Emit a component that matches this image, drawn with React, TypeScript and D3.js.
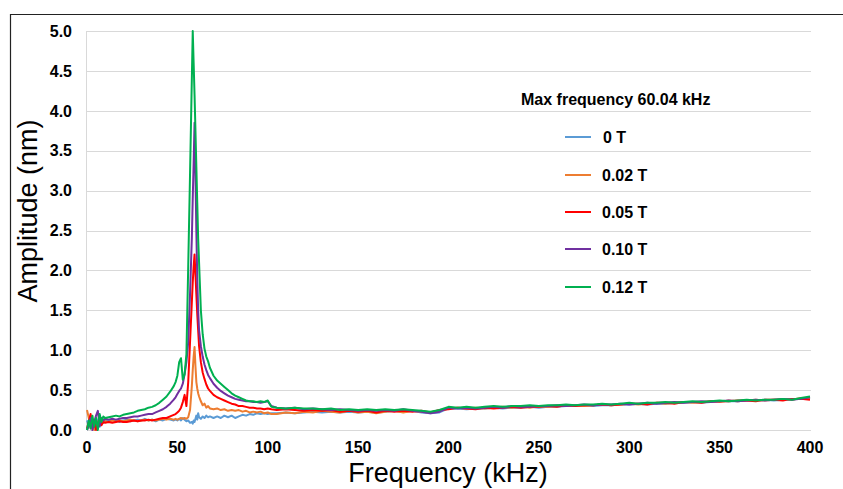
import React from 'react';
import * as d3 from 'd3';

// Frequency grid (kHz)
const freqLow = [0, 1, 2, 3, 4, 5, 6, 7, 8, 9, 10];
const freqRise = [12, 14, 16, 18, 20, 22, 24, 26, 28, 30, 32, 34, 36, 38, 40, 42, 44, 46, 48];
const freqPeakA = [49, 50, 51, 52, 53, 54, 55, 56, 57, 58];
const freqPeakB = [58.5, 59, 59.5, 60, 60.5, 61, 61.5, 62];
const freqTail = [63, 64, 65, 66, 67, 68];
const freqMid = [70, 72, 74, 76, 78, 80, 82, 84, 86, 88, 90, 92, 94, 96, 98, 100, 102];
const freqHigh = [
  105, 110, 115, 120, 125, 130, 135, 140, 145, 150,
  155, 160, 165, 170, 175, 180, 185, 190, 195, 200,
  205, 210, 215, 220, 225, 230, 235, 240, 245, 250,
  255, 260, 265, 270, 275, 280, 285, 290, 295, 300,
  305, 310, 315, 320, 325, 330, 335, 340, 345, 350,
  355, 360, 365, 370, 375, 380, 385, 390, 395, 400,
];
const freqKHz = [...freqLow, ...freqRise, ...freqPeakA, ...freqPeakB, ...freqTail, ...freqMid, ...freqHigh];

// Amplitudes (nm)
const amp0T = [
  0.12, 0.05, 0.18, 0.08, 0.02, 0.15, 0.10, 0.04, 0.13, 0.09, 0.12,
  0.11, 0.13, 0.12, 0.10, 0.12, 0.13, 0.11, 0.12, 0.13, 0.12, 0.14, 0.12, 0.13, 0.11, 0.13, 0.12, 0.14, 0.13, 0.12,
  0.13, 0.12, 0.14, 0.12, 0.15, 0.13, 0.11, 0.12, 0.09, 0.10,
  0.08, 0.12, 0.10, 0.14, 0.18, 0.13, 0.21, 0.16,
  0.14, 0.17, 0.15, 0.18, 0.16, 0.17,
  0.15, 0.17, 0.15, 0.18, 0.16, 0.18, 0.15, 0.17, 0.19, 0.18, 0.20, 0.19, 0.21, 0.20, 0.21, 0.20, 0.21,
  0.21, 0.22, 0.21, 0.22, 0.23, 0.22, 0.23, 0.22, 0.23, 0.22,
  0.23, 0.22, 0.23, 0.24, 0.23, 0.24, 0.22, 0.21, 0.22, 0.27,
  0.27, 0.26, 0.27, 0.27, 0.28, 0.27, 0.28, 0.28, 0.29, 0.28,
  0.29, 0.29, 0.30, 0.30, 0.31, 0.30, 0.31, 0.31, 0.32, 0.32,
  0.33, 0.32, 0.33, 0.33, 0.34, 0.34, 0.35, 0.34, 0.35, 0.36,
  0.36, 0.36, 0.37, 0.37, 0.38, 0.37, 0.38, 0.39, 0.39, 0.40,
];
const amp002T = [
  0.25, 0.15, 0.02, 0.10, 0.00, 0.12, 0.06, 0.14, 0.08, 0.10, 0.11,
  0.10, 0.12, 0.11, 0.12, 0.11, 0.12, 0.13, 0.12, 0.11, 0.12, 0.13, 0.12, 0.13, 0.12, 0.13, 0.14, 0.13, 0.14, 0.13,
  0.14, 0.13, 0.14, 0.15, 0.14, 0.15, 0.14, 0.16, 0.25, 0.55,
  0.75, 0.92, 1.04, 0.80, 0.60, 0.52, 0.46, 0.42,
  0.36, 0.31, 0.33, 0.28, 0.30, 0.27,
  0.26, 0.27, 0.25, 0.26, 0.24, 0.25, 0.24, 0.25, 0.23, 0.24, 0.22, 0.23, 0.22, 0.23, 0.21, 0.22, 0.20,
  0.20, 0.22, 0.21, 0.23, 0.22, 0.24, 0.23, 0.22, 0.24, 0.22,
  0.23, 0.21, 0.23, 0.24, 0.22, 0.24, 0.23, 0.22, 0.24, 0.27,
  0.28, 0.27, 0.28, 0.27, 0.28, 0.29, 0.28, 0.29, 0.28, 0.30,
  0.29, 0.30, 0.30, 0.31, 0.30, 0.31, 0.32, 0.31, 0.32, 0.33,
  0.32, 0.33, 0.34, 0.33, 0.34, 0.35, 0.34, 0.35, 0.36, 0.35,
  0.37, 0.36, 0.37, 0.38, 0.37, 0.38, 0.39, 0.38, 0.40, 0.39,
];
const amp005T = [
  0.02, 0.10, 0.20, 0.05, 0.12, 0.00, 0.08, 0.15, 0.06, 0.10, 0.09,
  0.10, 0.09, 0.10, 0.11, 0.10, 0.10, 0.11, 0.12, 0.11, 0.12, 0.12, 0.13, 0.12, 0.13, 0.14, 0.15, 0.15, 0.17, 0.19,
  0.20, 0.22, 0.24, 0.28, 0.35, 0.44, 0.30, 0.60, 1.10, 1.60,
  1.85, 2.05, 2.20, 1.95, 1.70, 1.45, 1.25, 1.05,
  0.85, 0.72, 0.64, 0.57, 0.52, 0.49,
  0.44, 0.41, 0.39, 0.37, 0.35, 0.33, 0.32, 0.30, 0.30, 0.29, 0.28, 0.28, 0.27, 0.27, 0.26, 0.27, 0.26,
  0.25, 0.26, 0.25, 0.24, 0.25, 0.24, 0.25, 0.23, 0.24, 0.23,
  0.24, 0.22, 0.24, 0.23, 0.24, 0.23, 0.24, 0.22, 0.25, 0.26,
  0.28, 0.27, 0.26, 0.28, 0.27, 0.28, 0.29, 0.28, 0.29, 0.29,
  0.30, 0.29, 0.31, 0.30, 0.31, 0.31, 0.32, 0.31, 0.32, 0.33,
  0.33, 0.32, 0.34, 0.34, 0.33, 0.35, 0.35, 0.34, 0.36, 0.36,
  0.36, 0.37, 0.37, 0.36, 0.38, 0.38, 0.37, 0.39, 0.39, 0.38,
];
const amp010T = [
  0.00, 0.05, 0.15, 0.00, 0.10, 0.18, 0.24, 0.05, 0.15, 0.12, 0.14,
  0.13, 0.14, 0.13, 0.14, 0.15, 0.15, 0.16, 0.17, 0.17, 0.18, 0.19, 0.20, 0.20, 0.22, 0.24, 0.26, 0.29, 0.33, 0.38,
  0.41, 0.45, 0.49, 0.52, 0.58, 0.70, 0.85, 1.10, 1.70, 2.40,
  2.90, 3.35, 3.85, 3.20, 2.50, 1.90, 1.50, 1.25,
  1.05, 0.92, 0.82, 0.75, 0.69, 0.65,
  0.58, 0.53, 0.49, 0.46, 0.43, 0.41, 0.39, 0.38, 0.37, 0.36, 0.36, 0.35, 0.35, 0.34, 0.35, 0.36, 0.30,
  0.28, 0.27, 0.28, 0.26, 0.27, 0.26, 0.25, 0.26, 0.25, 0.24,
  0.25, 0.24, 0.25, 0.24, 0.26, 0.24, 0.23, 0.21, 0.23, 0.28,
  0.27, 0.28, 0.27, 0.28, 0.29, 0.28, 0.30, 0.29, 0.29, 0.30,
  0.30, 0.31, 0.30, 0.31, 0.32, 0.31, 0.32, 0.32, 0.33, 0.32,
  0.33, 0.34, 0.33, 0.34, 0.35, 0.34, 0.35, 0.36, 0.35, 0.36,
  0.37, 0.36, 0.37, 0.38, 0.37, 0.38, 0.39, 0.38, 0.39, 0.41,
];
const amp012T = [
  0.00, 0.12, 0.02, 0.18, 0.04, 0.15, 0.00, 0.20, 0.10, 0.17, 0.15,
  0.16, 0.17, 0.18, 0.17, 0.19, 0.20, 0.21, 0.22, 0.24, 0.25, 0.26, 0.28, 0.29, 0.31, 0.34, 0.38, 0.42, 0.48, 0.55,
  0.60, 0.68, 0.85, 0.90, 0.63, 0.70, 0.95, 2.05, 3.20, 4.40,
  5.00, 4.60, 4.20, 3.75, 3.30, 2.85, 2.40, 2.10,
  1.50, 1.20, 1.02, 0.92, 0.86, 0.78,
  0.68, 0.62, 0.58, 0.54, 0.50, 0.46, 0.43, 0.41, 0.39, 0.37, 0.36, 0.36, 0.35, 0.36, 0.35, 0.37, 0.29,
  0.28, 0.27, 0.28, 0.27, 0.27, 0.26, 0.27, 0.25, 0.26, 0.25,
  0.26, 0.25, 0.26, 0.25, 0.26, 0.25, 0.24, 0.23, 0.25, 0.29,
  0.28, 0.29, 0.28, 0.29, 0.30, 0.29, 0.30, 0.30, 0.31, 0.30,
  0.31, 0.31, 0.32, 0.31, 0.32, 0.32, 0.33, 0.32, 0.33, 0.34,
  0.33, 0.34, 0.34, 0.35, 0.34, 0.35, 0.36, 0.35, 0.36, 0.37,
  0.36, 0.37, 0.38, 0.37, 0.38, 0.38, 0.39, 0.38, 0.40, 0.42,
];

const seriesNames = ['0 T', '0.02 T', '0.05 T', '0.10 T', '0.12 T'];
const seriesColors = ['#5B9BD5', '#ED7D31', '#FF0000', '#7030A0', '#00B050'];
const seriesValues = [amp0T, amp002T, amp005T, amp010T, amp012T];

const xTicks = [0, 50, 100, 150, 200, 250, 300, 350, 400];
const yTicks = [0, 0.5, 1, 1.5, 2, 2.5, 3, 3.5, 4, 4.5, 5];
const legendTitle = 'Max frequency 60.04 kHz';
const xTitle = 'Frequency (kHz)';
const yTitle = 'Amplitude (nm)';

const FONT = "'Liberation Sans', Arial, sans-serif";

export default function App() {
  const W = 843;
  const H = 489;
  const x = d3.scaleLinear().domain([0, 400]).range([87, 810]);
  const y = d3.scaleLinear().domain([0, 5]).range([430, 31]);
  const line = d3
    .line<number>()
    .x((_, i) => x(freqKHz[i]))
    .y((d) => y(d));

  const legendX1 = 565;
  const legendX2 = 591;
  const legendRows = [137, 175, 212, 249, 287];

  return (
    <svg
      width={W}
      height={H}
      style={{ position: 'absolute', left: 0, top: 0, background: '#fff' }}
      fontFamily={FONT}
    >
      <rect x={0} y={0} width={W} height={H} fill="#fff" />
      {/* outer frame */}
      <line x1={10} y1={14.5} x2={W} y2={14.5} stroke="#222" strokeWidth={1.2} />
      <line x1={10.5} y1={14} x2={10.5} y2={H} stroke="#222" strokeWidth={1.2} />

      {/* gridlines */}
      {yTicks.map((t) => (
        <line
          key={'g' + t}
          x1={x(0)}
          x2={x(400) + 1}
          y1={Math.round(y(t)) + 0.5}
          y2={Math.round(y(t)) + 0.5}
          stroke="#d9d9d9"
          strokeWidth={1}
        />
      ))}
      <line x1={x(0) - 0.5} x2={x(0) - 0.5} y1={y(5)} y2={y(0)} stroke="#d9d9d9" strokeWidth={1} />

      {/* y tick labels */}
      {yTicks.map((t) => (
        <text
          key={'yl' + t}
          x={72}
          y={y(t)}
          dy="0.36em"
          textAnchor="end"
          fontSize={16}
          fontWeight="bold"
          fill="#000"
        >
          {t.toFixed(1)}
        </text>
      ))}

      {/* x tick labels */}
      {xTicks.map((t) => (
        <text
          key={'xl' + t}
          x={x(t)}
          y={453}
          textAnchor="middle"
          fontSize={16}
          fontWeight="bold"
          fill="#000"
        >
          {t}
        </text>
      ))}

      {/* series */}
      {seriesValues.map((vals, i) => (
        <path
          key={'s' + i}
          d={line(vals) || ''}
          fill="none"
          stroke={seriesColors[i]}
          strokeWidth={2}
          strokeLinejoin="round"
        />
      ))}

      {/* legend */}
      <text x={521} y={105} fontSize={16} fontWeight="bold" fill="#000">
        {legendTitle}
      </text>
      {seriesNames.map((n, i) => (
        <g key={'lg' + i}>
          <line
            x1={legendX1}
            x2={legendX2}
            y1={legendRows[i]}
            y2={legendRows[i]}
            stroke={seriesColors[i]}
            strokeWidth={2}
          />
          <text x={i === 0 ? 603 : 602} y={legendRows[i]} dy="0.36em" fontSize={16} fontWeight="bold" fill="#000">
            {n}
          </text>
        </g>
      ))}

      {/* axis titles */}
      <text x={448} y={482} textAnchor="middle" fontSize={27} fill="#000">
        {xTitle}
      </text>
      <text
        transform={`translate(37, 211) rotate(-90)`}
        textAnchor="middle"
        fontSize={27}
        fill="#000"
      >
        {yTitle}
      </text>
    </svg>
  );
}
